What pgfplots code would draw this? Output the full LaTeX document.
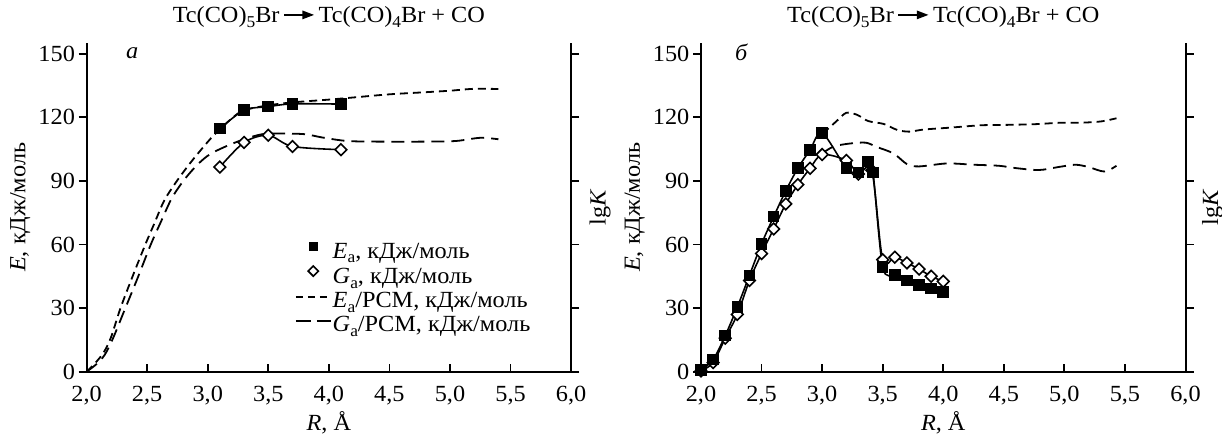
\documentclass[border=0pt]{standalone}
\usepackage{fontspec}
\setmainfont{Liberation Serif}[FakeStretch=1.05]
\usepackage{pgfplots}
\pgfplotsset{compat=1.18}
\usetikzlibrary{arrows.meta}

\newcommand{\sub}[1]{\raisebox{-2.4bp}{\fontsize{8.3}{8.3}\selectfont #1}}
\newcommand{\rarr}{\tikz[baseline={(0,-3.8bp)}]\draw[black,solid,line width=0.7bp,-{Triangle[length=5.8bp,width=4.2bp]}] (0,0)--(15bp,0);}
\newcommand{\ttl}{Tc(CO)\sub{5}Br\,\rarr\,Tc(CO)\sub{4}Br + CO}

\pgfplotsset{
  frame/.style={
    scale only axis, width=242.25bp, height=164.35bp, anchor=south west,
    xmin=2, xmax=6, ymin=0, ymax=155, clip=false,
    axis line style={-, line width=1bp},
    tick align=outside, major tick length=4bp,
    tick style={black, line width=0.9bp},
    ytick={0,30,...,150},
    /pgf/number format/assume math mode=true,
  },
  panel/.style={
    frame,
    axis x line*=bottom, axis y line*=left,
    x tick style={yshift=4bp},
    xtick={2,2.5,...,6},
    xticklabel style={yshift=0.7bp, /pgf/number format/.cd, fixed, fixed zerofill, precision=1, use comma},
    yticklabel style={xshift=2.2bp},
    xlabel={\textit{R}, Å},
    xlabel style={at={(axis description cs:0.5,-0.1775)}, anchor=base},
    ylabel={\textit{E}, кДж/моль},
    ylabel style={at={(axis description cs:-0.137,0.5)}, anchor=center},
    title={\ttl},
    title style={at={(axis description cs:0.5,1.026)}, anchor=base},
  },
  spine/.style={
    frame, axis x line=none, axis y line*=right, yticklabels={},
  },
  sq/.style={black, line width=0.8bp, mark=square*, mark size=2.5bp, mark options={solid, fill=black}},
  dm/.style={black, line width=0.8bp, mark=square*, mark size=2.05bp, mark options={solid, fill=white, rotate=45, line width=0.8bp}},
  shortd/.style={black, line width=0.9bp, dash pattern=on 4bp off 2.5bp},
  longd/.style={black, line width=0.9bp, dash pattern=on 6.5bp off 3.5bp},
}

\begin{document}
\fontsize{11.6}{13.5}\selectfont
\begin{tikzpicture}

% ---- panel a ----
\begin{axis}[panel, at={(43.3bp,31.15bp)},
  legend style={draw=none, fill=none, inner sep=0pt, outer sep=0pt,
    at={(axis description cs:0.43,0.3976)}, anchor=north west,
    column sep=0.5bp, row sep=0pt,
    nodes={inner sep=0pt, text height=8.5bp, text depth=3.6bp}},
  legend cell align=left]
\addplot[shortd, smooth, forget plot] coordinates {
  (2.00,0) (2.07,4) (2.14,9) (2.20,16) (2.28,30) (2.38,45) (2.485,60)
  (2.56,70) (2.64,80.6) (2.74,89.5) (2.85,98) (2.95,105) (3.05,111.5)
  (3.2,119.5) (3.3,123.3) (3.5,125.6) (3.7,127) (4.0,128.3) (4.2,129.3)
  (4.5,130.8) (4.8,131.8) (5.0,132.5) (5.2,133.4) (5.4,133.3)};
\addplot[longd, smooth, forget plot] coordinates {
  (2.00,0) (2.08,3.5) (2.15,8) (2.22,16) (2.32,30) (2.42,44) (2.53,60)
  (2.62,71.5) (2.705,82) (2.81,90.8) (2.92,97.9) (3.02,102.6) (3.16,106.5)
  (3.3,109.6) (3.45,112) (3.6,112.3) (3.8,112) (3.95,110.4) (4.15,108.8)
  (4.4,108.5) (4.8,108.5) (5.05,108.8) (5.25,110.3) (5.4,109.6)};
\addplot[dm, smooth, forget plot] coordinates {
  (3.1,96.5) (3.3,108.1) (3.5,111.5) (3.7,106.2) (4.1,104.7)};
\addplot[sq, smooth, forget plot] coordinates {
  (3.1,114.6) (3.3,123.3) (3.5,125.0) (3.7,126.3) (4.1,126.2)};

\addlegendimage{legend image code/.code={\path (0,0) (17.5bp,0);
  \fill[black] (6.75bp,1.5bp) rectangle (10.75bp,5.5bp);}}
\addlegendentry{\textit{E}\sub{a}, кДж/моль}
\addlegendimage{legend image code/.code={\path (0,0) (17.5bp,0);
  \draw[black, line width=0.8bp, fill=white] (8.75bp,6.3bp)--(11.3bp,3.75bp)--(8.75bp,1.2bp)--(6.2bp,3.75bp)--cycle;}}
\addlegendentry{\textit{G}\sub{a}, кДж/моль}
\addlegendimage{legend image code/.code={
  \draw[black, line width=0.9bp, dash pattern=on 3.5bp off 2.5bp] (0,3bp)--(17.5bp,3bp);}}
\addlegendentry{\textit{E}\sub{a}/PCM, кДж/моль}
\addlegendimage{legend image code/.code={
  \draw[black, line width=0.9bp, dash pattern=on 7.5bp off 3bp] (0,3bp)--(17.5bp,3bp);}}
\addlegendentry{\textit{G}\sub{a}/PCM, кДж/моль}

\node at (axis description cs:0.094,0.970) {\textit{а}};
\node[rotate=90] at (axis description cs:1.0597,0.5) {lg\textit{K}};
\end{axis}
\begin{axis}[spine, at={(43.3bp,31.15bp)}]
\end{axis}

% ---- panel b ----
\begin{axis}[panel, at={(350.5bp,31.15bp)}]
\addplot[shortd, smooth] coordinates {
  (3.0,112.6) (3.04,114.1) (3.12,118.2) (3.2,122.1) (3.29,121.1) (3.38,118.2)
  (3.51,116.8) (3.62,114) (3.72,113.2) (3.84,114.2) (4.06,115.1) (4.31,116.2)
  (4.53,116.4) (4.75,116.7) (4.97,117.4) (5.13,117.4) (5.3,118) (5.43,119.5)};
\addplot[longd, smooth] coordinates {
  (3.0,103) (3.07,105.5) (3.11,106.5) (3.23,107.6) (3.36,108) (3.45,106)
  (3.59,102.9) (3.70,97.9) (3.8,96.8) (4.03,98.2) (4.25,97.6) (4.46,97.1)
  (4.6,96) (4.79,95.1) (4.95,96.5) (5.09,97.6) (5.2,96.5) (5.33,94.4) (5.43,97.1)};
\addplot[dm, smooth] coordinates {
  (2.0,0.3) (2.1,4.3) (2.2,15.8) (2.3,27) (2.4,43) (2.5,55.7) (2.6,67.3)
  (2.7,79.1) (2.8,88.2) (2.9,95.9) (3.0,102.4) (3.2,99.6) (3.3,93.2)
  (3.41,95) (3.5,52.8) (3.6,54) (3.7,51.3) (3.8,48.4) (3.9,45) (4.0,42.6)};
\addplot[sq, smooth] coordinates {
  (2.0,0.7) (2.1,5.7) (2.2,17) (2.3,30.5) (2.4,45.4) (2.5,60.3) (2.6,73.1)
  (2.7,85.3) (2.8,96) (2.9,104.5) (3.0,112.6) (3.2,96) (3.3,93.9)
  (3.38,99.2) (3.42,94) (3.5,49.3) (3.6,45.6) (3.7,43.1) (3.8,40.8)
  (3.9,39.2) (4.0,37.6)};
\node at (axis description cs:0.0837,0.973) {\textit{б}};
\node[rotate=90] at (axis description cs:1.056,0.5) {lg\textit{K}};
\end{axis}
\begin{axis}[spine, at={(350.5bp,31.15bp)}]
\end{axis}

\pgfresetboundingbox
\path[use as bounding box] (0,0) rectangle (611bp,217bp);
\end{tikzpicture}
\end{document}
